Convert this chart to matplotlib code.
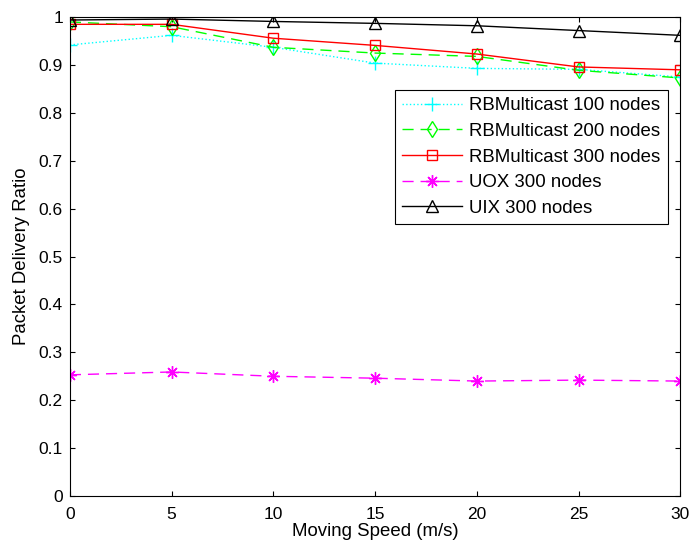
import matplotlib
matplotlib.use("Agg")
import matplotlib.pyplot as plt

plt.rcParams['font.family'] = ['Liberation Sans', 'DejaVu Sans']

speed = [0, 5, 10, 15, 20, 25, 30]
rb100 = [0.942, 0.962, 0.937, 0.904, 0.893, 0.891, 0.875]
rb200 = [0.990, 0.980, 0.937, 0.925, 0.918, 0.889, 0.873]
rb300 = [0.985, 0.985, 0.956, 0.941, 0.923, 0.896, 0.890]
uox300 = [0.253, 0.259, 0.250, 0.246, 0.240, 0.242, 0.240]
uix300 = [0.994, 0.996, 0.991, 0.987, 0.982, 0.972, 0.962]

fig = plt.figure(figsize=(6.92, 5.46), dpi=100)
ax = fig.add_axes([0.101, 0.0916, 0.882, 0.877])

ax.plot(speed, rb100, color='cyan', linestyle=':', marker='+', markersize=10, lw=1, label='RBMulticast 100 nodes')
ax.plot(speed, rb200, color='#00ff00', linestyle=(0, (8, 5)), marker='d', markersize=8, mfc='none', lw=1, label='RBMulticast 200 nodes')
ax.plot(speed, rb300, color='red', linestyle='-', marker='s', markersize=7, mfc='none', lw=1, label='RBMulticast 300 nodes')
ax.plot(speed, uox300, color='magenta', linestyle=(0, (8, 5)), marker=(8, 2, 0), markersize=9, lw=1, label='UOX 300 nodes')
ax.plot(speed, uix300, color='black', linestyle='-', marker='^', markersize=9, mfc='none', lw=1, label='UIX 300 nodes')

ax.set_xlim(0, 30)
ax.set_ylim(0, 1)
ax.set_xticks(speed)
ax.set_yticks([i / 10 for i in range(11)])
ax.set_yticklabels(['0', '0.1', '0.2', '0.3', '0.4', '0.5', '0.6', '0.7', '0.8', '0.9', '1'])
ax.tick_params(direction='in', top=True, right=True, labelsize=12.5)
ax.tick_params(axis='x', pad=8)
ax.tick_params(axis='y', pad=5)
ax.set_xlabel('Moving Speed (m/s)', fontsize=13.4, labelpad=1)
ax.set_ylabel('Packet Delivery Ratio', fontsize=13.4, labelpad=6)

leg = ax.legend(loc='upper right', bbox_to_anchor=(0.98, 0.848), fontsize=13.4,
                fancybox=False, edgecolor='black', framealpha=1,
                handlelength=3.2, handletextpad=0.4, borderaxespad=0,
                labelspacing=0.46, borderpad=0.4)
leg.get_frame().set_linewidth(0.8)

fig.savefig('out.png', dpi=100)
